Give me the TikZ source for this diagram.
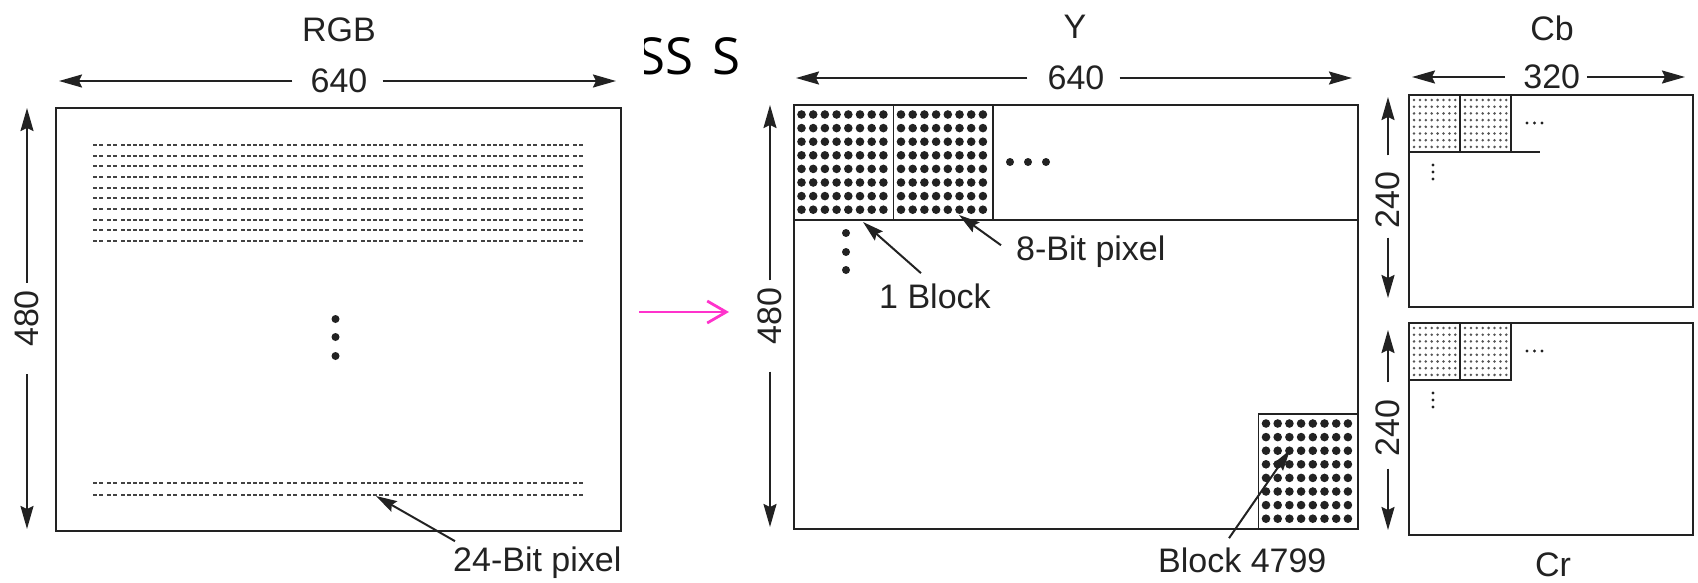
\documentclass[tikz,border=0pt]{standalone}
\usepackage{fontspec}
\setsansfont{Liberation Sans}
\newfontfamily\smearfont{Open Sans}
\usepackage{tikz}
\usetikzlibrary{arrows.meta,calc}
\usepackage{xcolor}
\definecolor{inkgray}{HTML}{222222}
\definecolor{pixgray}{HTML}{555555}
\definecolor{convpink}{HTML}{FF33CC}

\begin{document}
\begin{tikzpicture}[
  x=1pt, y=-1pt,
  font=\sffamily\fontsize{34}{40}\selectfont,
  text=inkgray,
  framebox/.style={
    draw=inkgray,
    line width=2.3pt,
    inner sep=0pt,
    outer sep=0pt,
    anchor=north west
  },
  blockbox/.style={
    draw=inkgray,
    line width=1.8pt,
    inner sep=0pt,
    outer sep=0pt,
    minimum width=99.5pt,
    minimum height=115pt,
    anchor=north west
  },
  subblock/.style={blockbox, minimum width=51pt, minimum height=57pt},
  dimlabel/.style={inner sep=0pt},
  pointlabel/.style={inner sep=0pt, anchor=base west},
  dimarrow/.style={-{Stealth[length=23pt, width=13pt, inset=3pt]}, line width=2pt, draw=inkgray},
  pointer/.style={-{Stealth[length=21pt, width=12pt, inset=3pt]}, line width=2pt, draw=inkgray},
  pixrow/.style={line width=2pt, draw=inkgray!85,
    dash pattern=on 4pt off 2pt on 4pt off 4pt on 4pt off 2pt on 4pt off 4pt
      on 4pt off 2pt on 4pt off 2pt on 4pt off 2pt on 4pt off 2pt on 4pt off 4pt},
  convarrow/.style={-{Straight Barb[length=19pt, width=22pt]}, line width=2.8pt, draw=convpink}
]
  \useasboundingbox (0,0) rectangle (1698,582);

  % RGB frame, 640 x 480
  \node[framebox, minimum width=565pt, minimum height=423pt] (rgb) at (56,108) {};
  \node (rgbtitle) at (339,30) {RGB};
  \coordinate (rgbwl) at (59,81);
  \coordinate (rgbwr) at (616,81);
  \node[dimlabel] (rgbw) at (339,81) {640};
  \draw[dimarrow] ($(rgbw.west)+(-18,0)$) -- (rgbwl);
  \draw[dimarrow] ($(rgbw.east)+(15,0)$) -- (rgbwr);
  \coordinate (rgbht) at (27,108);
  \coordinate (rgbhb) at (27,529);
  \node[dimlabel, rotate=90] (rgbh) at (27,318.5) {480};
  \draw[dimarrow] ($(rgbh.east)+(0,-7)$) -- (rgbht);
  \draw[dimarrow] ($(rgbh.west)+(0,27)$) -- (rgbhb);

  % rows of 24-bit pixels
  \foreach \r in {0,...,9}
    \draw[pixrow] (93,145+10.67*\r) -- (584,145+10.67*\r);
  \foreach \yy in {483,495}
    \draw[pixrow] (93,\yy) -- (584,\yy);
  \foreach \yy in {319,337,356}
    \fill[inkgray] (335.5,\yy) circle (4pt);

  \node[pointlabel] (px24lbl) at (453,571) {24-Bit pixel};
  \coordinate (px24) at (376,496);
  \draw[pointer] ($(px24lbl.north west)+(2,-5)$) -- (px24);

  % stray heading fragment
  \begin{scope}
    \clip (644,20) rectangle (760,95);
    \node[pointlabel, font=\smearfont\fontsize{51}{56}\selectfont, text=black] (smear) at (637.7,74) {SS \kern5pt S};
  \end{scope}

  % conversion arrow
  \coordinate (convfrom) at (639,312);
  \coordinate (convto) at (729,312);
  \draw[convarrow] (convfrom) -- (convto);

  % Y frame with 8x8 blocks
  \node[framebox, minimum width=564pt, minimum height=424pt] (ybox) at (794,105) {};
  \node (ytitle) at (1075,27) {Y};
  \coordinate (ywl) at (796,78);
  \coordinate (ywr) at (1352,78);
  \node[dimlabel] (yw) at (1076,78) {640};
  \draw[dimarrow] ($(yw.west)+(-20,0)$) -- (ywl);
  \draw[dimarrow] ($(yw.east)+(15,0)$) -- (ywr);
  \coordinate (yht) at (770,105);
  \coordinate (yhb) at (770,527);
  \node[dimlabel, rotate=90] (yh) at (770,316) {480};
  \draw[dimarrow] ($(yh.east)+(0,-7)$) -- (yht);
  \draw[dimarrow] ($(yh.west)+(0,27)$) -- (yhb);

  \node[blockbox] (yb1) at (ybox.north west) {};
  \node[blockbox] (yb2) at (yb1.north east) {};
  \node[blockbox, anchor=south east] (yb4799) at (ybox.south east) {};
  \draw[inkgray, line width=1.8pt] (yb1.south west) -- (yb1.south west -| ybox.east);
  \foreach \b in {yb1,yb2,yb4799}
    \foreach \i in {0,...,7}
      \foreach \j in {0,...,7}
        \fill[inkgray] ($(\b.north west)+(7.5+11.7*\i,9.5+13.6*\j)$) circle (4.3pt);
  \foreach \xx in {1010,1028,1046}
    \fill[inkgray] (\xx,162) circle (4pt);
  \foreach \yy in {233,252,270}
    \fill[inkgray] (846,\yy) circle (4pt);

  \node[pointlabel] (blk1lbl) at (879,308) {1 Block};
  \coordinate (blk1) at (863,222);
  \draw[pointer] ($(blk1lbl.north west)+(42,-10)$) -- (blk1);
  \node[pointlabel] (px8lbl) at (1016,260) {8-Bit pixel};
  \coordinate (px8) at (959,215);
  \draw[pointer] ($(px8lbl.west)+(-15,-6)$) -- (px8);
  \node[pointlabel] (blk4799lbl) at (1158,572) {Block 4799};
  \coordinate (blk4799) at (1290,450);
  \draw[pointer] ($(blk4799lbl.north west)+(71,-9)$) -- (blk4799);

  % Cb and Cr frames, 320 x 240
  \node[framebox, minimum width=284pt, minimum height=212pt] (cb) at (1409,95) {};
  \node[framebox, minimum width=284pt, minimum height=212pt] (cr) at (1409,323) {};
  \node (cbtitle) at (1552,28) {Cb};
  \node (crtitle) at (1553,565) {Cr};
  \coordinate (cbwl) at (1412,77);
  \coordinate (cbwr) at (1685,77);
  \node[dimlabel] (cbw) at (1551.7,77) {320};
  \draw[dimarrow] ($(cbw.west)+(-18,0)$) -- (cbwl);
  \draw[dimarrow] ($(cbw.east)+(6.5,0)$) -- (cbwr);
  \coordinate (cbht) at (1388,97);
  \coordinate (cbhb) at (1388,298);
  \node[dimlabel, rotate=90] (cbh) at (1388,200) {240};
  \draw[dimarrow] ($(cbh.east)+(0,-16)$) -- (cbht);
  \draw[dimarrow] ($(cbh.west)+(0,9)$) -- (cbhb);
  \coordinate (crht) at (1388,330);
  \coordinate (crhb) at (1388,530);
  \node[dimlabel, rotate=90] (crh) at (1388,428) {240};
  \draw[dimarrow] ($(crh.east)+(0,-17)$) -- (crht);
  \draw[dimarrow] ($(crh.west)+(0,12)$) -- (crhb);

  \node[subblock] (cb1) at (cb.north west) {};
  \node[subblock] (cb2) at (cb1.north east) {};
  \draw[inkgray, line width=1.8pt] (cb1.south west) -- ++(131,0);
  \node[subblock] (cr1) at (cr.north west) {};
  \node[subblock] (cr2) at (cr1.north east) {};
  \foreach \b in {cb1,cb2,cr1,cr2}
    \foreach \i in {0,...,7}
      \foreach \j in {0,...,7}
        \fill[pixgray] ($(\b.north west)+(5+5.9*\i,5+6.7*\j)$) circle (1.4pt);
  \foreach \pl in {cb,cr} {
    \foreach \dx in {118,125.5,133}
      \fill[inkgray] ($(\pl.north west)+(\dx,28)$) circle (1.7pt);
    \foreach \dy in {70,77,84}
      \fill[inkgray] ($(\pl.north west)+(24,\dy)$) circle (1.7pt);
  }

\end{tikzpicture}
\end{document}
